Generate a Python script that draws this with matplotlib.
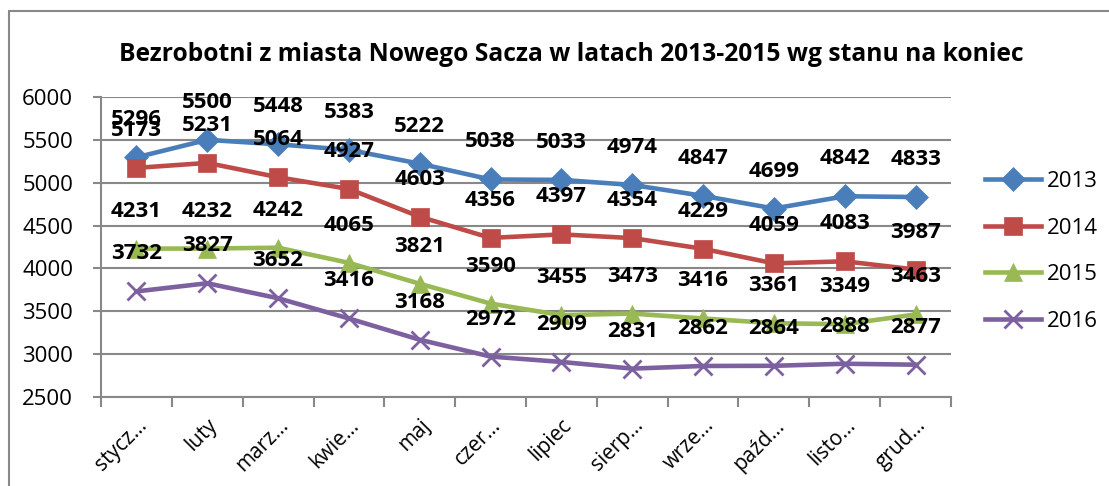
import matplotlib.pyplot as plt
from matplotlib.patches import Rectangle

months = ["stycz…", "luty", "marz…", "kwie…", "maj", "czer…", "lipiec",
          "sierp…", "wrze…", "paźd…", "listo…", "grud…"]
y2013 = [5296, 5500, 5448, 5383, 5222, 5038, 5033, 4974, 4847, 4699, 4842, 4833]
y2014 = [5173, 5231, 5064, 4927, 4603, 4356, 4397, 4354, 4229, 4059, 4083, 3987]
y2015 = [4231, 4232, 4242, 4065, 3821, 3590, 3455, 3473, 3416, 3361, 3349, 3463]
y2016 = [3732, 3827, 3652, 3416, 3168, 2972, 2909, 2831, 2862, 2864, 2888, 2877]
years = ["2013", "2014", "2015", "2016"]

plt.rcParams["font.family"] = ["Open Sans", "DejaVu Sans"]
W, H = 1109, 486
grey = "#888888"

fig = plt.figure(figsize=(W / 100, H / 100), dpi=100)
ax = fig.add_axes([101 / W, 1 - 397 / H, 850 / W, 300 / H])

# outer chart border (only left and top are visible in the crop)
fig.patches.append(Rectangle((9 / W, -0.1), 1.2, 1.1 - 11 / H, transform=fig.transFigure,
                             fill=False, edgecolor=grey, linewidth=1.5))

series = [
    (y2013, "#4A7EBB", "D", 12),
    (y2014, "#BE4B48", "s", 13),
    (y2015, "#98B954", "^", 13),
    (y2016, "#7D60A0", "x", 13),
]
x = list(range(len(months)))
for (vals, color, marker, ms), name in zip(series, years):
    ax.plot(x, vals, color=color, linewidth=3.3, marker=marker, markersize=ms,
            markeredgewidth=2 if marker == "x" else 0.5, markeredgecolor=color,
            label=name, zorder=3, clip_on=False)
    for xi, v in zip(x, vals):
        ax.annotate(str(v), (xi, v), xytext=(0, 27), textcoords="offset points",
                    ha="center", va="center", fontsize=16, fontweight="bold",
                    color="black", zorder=4)

ax.set_xlim(-0.5, len(months) - 0.5)
ax.set_ylim(2500, 6000)
ax.set_yticks(range(2500, 6001, 500))
ax.yaxis.grid(True, color=grey, linewidth=1.5)
ax.set_axisbelow(True)
for s in ["top", "right"]:
    ax.spines[s].set_visible(False)
for s in ["left", "bottom"]:
    ax.spines[s].set_color(grey)
    ax.spines[s].set_linewidth(1.5)
ax.tick_params(axis="y", length=6, width=1.5, color=grey, labelsize=16, pad=14)

ax.set_xticks([i - 0.5 for i in range(len(months) + 1)])
ax.set_xticklabels([])
ax.tick_params(axis="x", which="major", length=7, color=grey, width=1.5)
ax.set_xticks(x, minor=True)
ax.set_xticklabels(months, minor=True, rotation=45, ha="right",
                   rotation_mode="anchor", fontsize=15)
ax.tick_params(axis="x", which="minor", length=0, pad=13)

fig.text(571.5 / W, 1 - 54 / H,
         "Bezrobotni z miasta Nowego Sacza w latach 2013-2015 wg stanu na koniec",
         ha="center", va="center", fontsize=17.7, fontweight="bold")

ax.legend(loc="center left", bbox_to_anchor=(985 / W, 1 - 251.5 / H),
          bbox_transform=fig.transFigure, frameon=False, fontsize=16,
          handlelength=2.5, handletextpad=0.3, labelspacing=1.15,
          borderpad=0, borderaxespad=0)

fig.savefig("out.png", dpi=100)
